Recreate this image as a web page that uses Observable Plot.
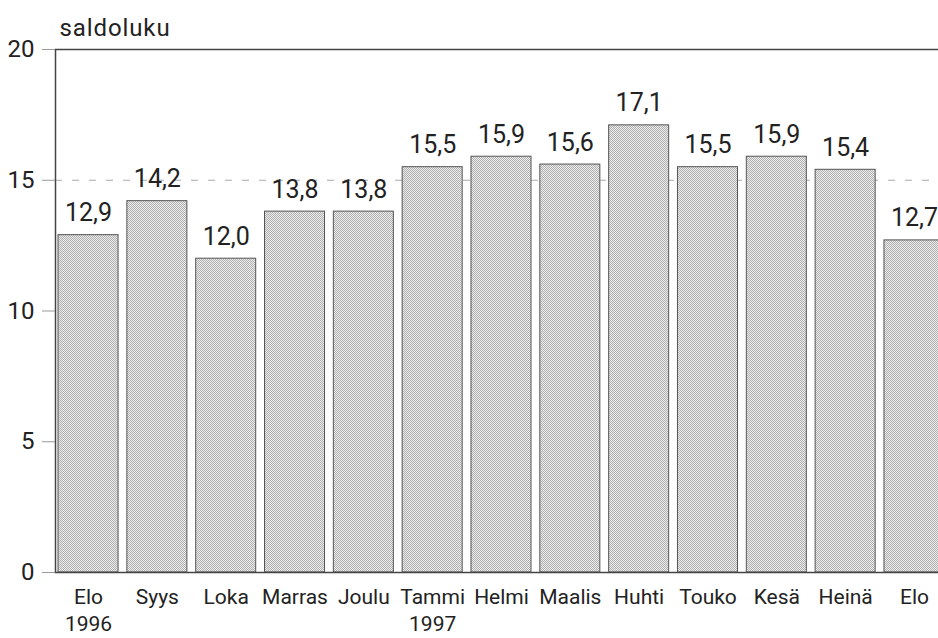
<!DOCTYPE html>
<html><head><meta charset="utf-8">
<script src="https://cdn.jsdelivr.net/npm/d3@7"></script>
<script src="https://cdn.jsdelivr.net/npm/@observablehq/plot@0.6"></script>
<style>body{margin:0;background:#fff} svg{overflow:hidden}</style>
</head><body><div id="chart"></div>
<script>
const months = ["Elo","Syys","Loka","Marras","Joulu","Tammi","Helmi","Maalis","Huhti","Touko","Kesä","Heinä","Elo"];
const years = ["1996","","","","","1997","","","","","","",""];
const values = [12.9,14.2,12.0,13.8,13.8,15.5,15.9,15.6,17.1,15.5,15.9,15.4,12.7];
const yTicks = [0,5,10,15,20];
const yLabel = "saldoluku";

const data = values.map((v, i) => ({i, v}));
const fmt = v => d3.format(".1f")(v).replace(".", ",");
const font = "Roboto, 'Liberation Sans', sans-serif";

const chart = Plot.plot({
  width: 938, height: 638,
  marginLeft: 55, marginRight: -9, marginTop: 49, marginBottom: 66,
  style: {fontFamily: font, color: "#222", background: "#fff", overflow: "hidden"},
  x: {domain: d3.range(months.length), paddingInner: 0.128, paddingOuter: 0.044, round: false},
  y: {domain: [0, 20]},
  marks: [
    Plot.ruleY([15], {stroke: "#aaa", strokeDasharray: "7,10"}),
    Plot.barY(data, {x: "i", y: "v", fill: "url(#dots)", stroke: "#555", strokeWidth: 1}),
    Plot.frame({stroke: "#444", strokeWidth: 1.5}),
    Plot.axisY({ticks: yTicks, tickSize: 13, tickPadding: 8, fontSize: 24, stroke: "#999", fill: "#222", label: null, tickFormat: d => String(d)}),
    Plot.axisX({tickSize: 0, tickPadding: 13, fontSize: 21, fill: "#222", label: null, lineHeight: 1.26,
      tickFormat: i => years[i] ? months[i] + "\n" + years[i] : months[i]}),
    Plot.text(data, {x: "i", y: "v", text: d => fmt(d.v), dy: -14, lineAnchor: "bottom", fontSize: 25, fill: "#222"}),
    Plot.text([yLabel], {frameAnchor: "top-left", text: d => d, dx: 4, dy: -14, lineAnchor: "bottom", textAnchor: "start", fontSize: 24, fill: "#222"})
  ]
});

const ns = "http://www.w3.org/2000/svg";
const defs = document.createElementNS(ns, "defs");
defs.innerHTML = '<pattern id="dots" width="2" height="2" patternUnits="userSpaceOnUse">' +
  '<rect width="2" height="2" fill="#ececec"/>' +
  '<rect width="1" height="1" fill="#b0b0b0"/>' +
  '<rect x="1" y="1" width="1" height="1" fill="#b0b0b0"/></pattern>';
chart.insertBefore(defs, chart.firstChild);
chart.querySelectorAll("text").forEach(t => {
  if (t.textContent === yLabel) t.setAttribute("letter-spacing", "0.9");
});
document.getElementById("chart").appendChild(chart);
</script>
</body></html>
